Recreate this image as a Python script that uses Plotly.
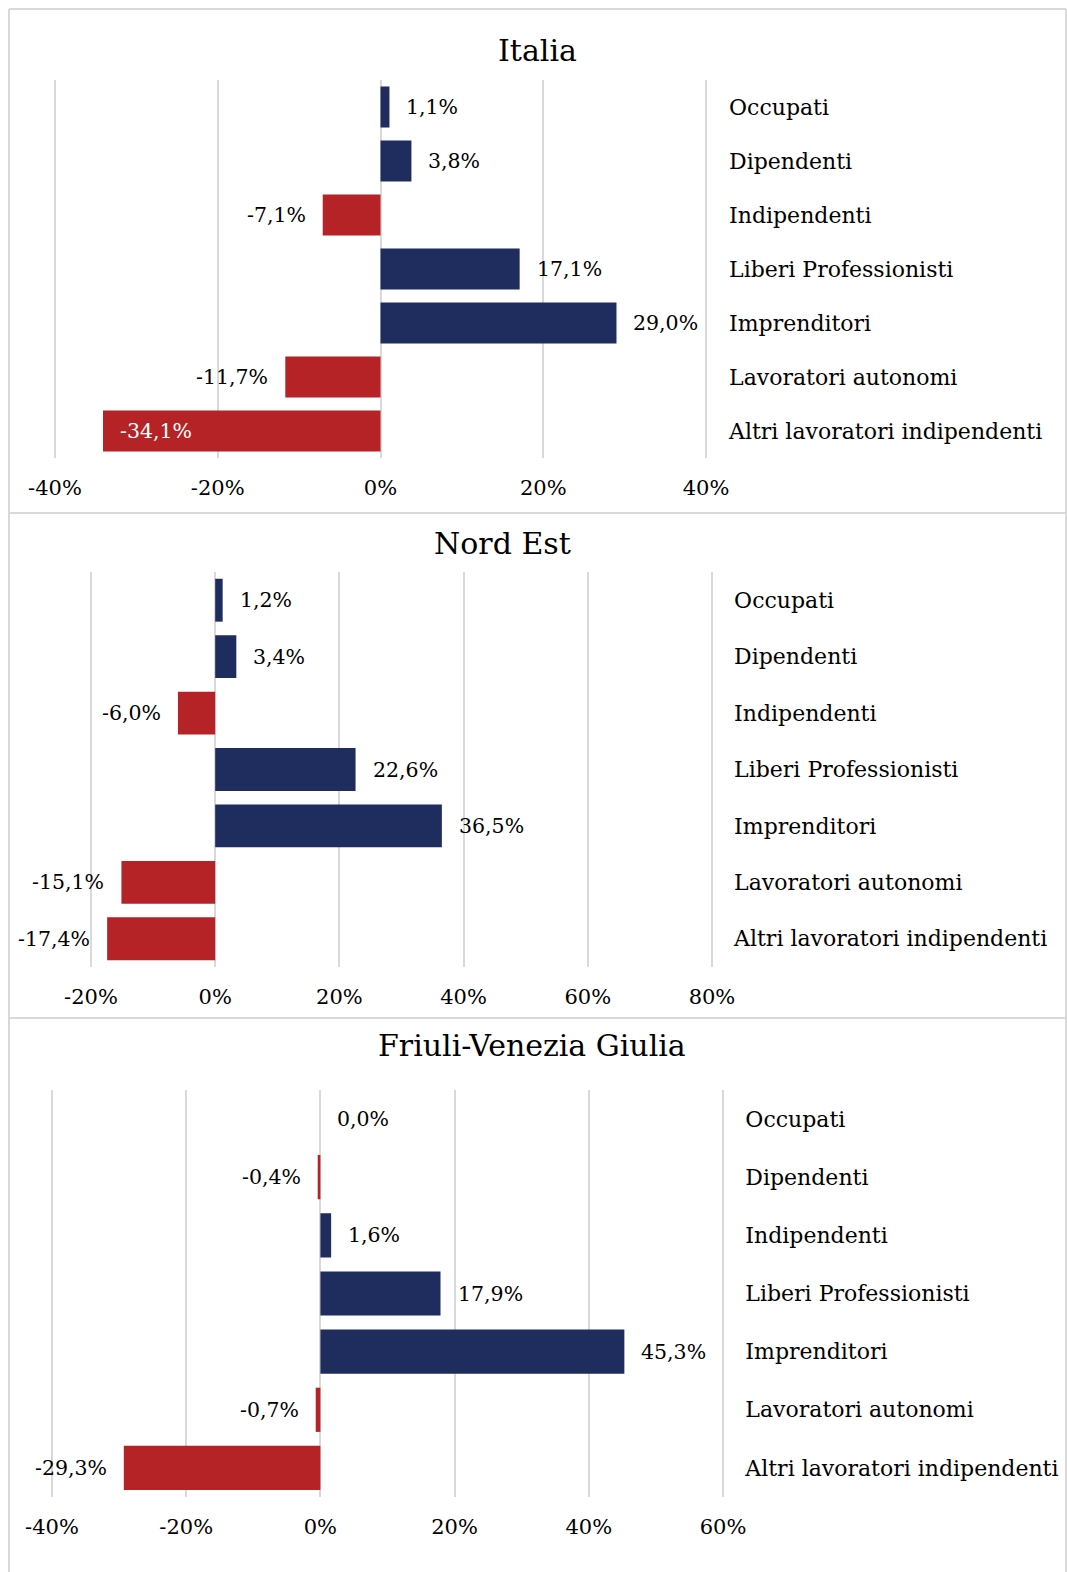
import plotly.graph_objects as go

W, H = 1067, 1572

categories = [
    "Occupati", "Dipendenti", "Indipendenti", "Liberi Professionisti",
    "Imprenditori", "Lavoratori autonomi", "Altri lavoratori indipendenti",
]

# variazione % 2011-2018
italia = [1.1, 3.8, -7.1, 17.1, 29.0, -11.7, -34.1]
nord_est = [1.2, 3.4, -6.0, 22.6, 36.5, -15.1, -17.4]
fvg = [0.0, -0.4, 1.6, 17.9, 45.3, -0.7, -29.3]

italia_ticks = [-40, -20, 0, 20, 40]
nord_est_ticks = [-20, 0, 20, 40, 60, 80]
fvg_ticks = [-40, -20, 0, 20, 40, 60]

titles = ["Italia", "Nord Est", "Friuli-Venezia Giulia"]

NAVY = "#1f2c5e"
RED = "#b52327"
GRID = "#d9d9d9"
FONT = "DejaVu Serif"


def px_x(p):
    return p / W


def px_y(p):
    return 1 - p / H


def pct(v):
    return f"{v:.1f}%".replace(".", ",")


# pixel layout of each panel: first/last gridline, y extent, title
panels = [
    dict(vals=italia, ticks=italia_ticks, x0=55, x1=706, y0=80, y1=458,
         tx=537, ty=50, inside=[6]),
    dict(vals=nord_est, ticks=nord_est_ticks, x0=91, x1=712, y0=572, y1=967,
         tx=502, ty=543, inside=[]),
    dict(vals=fvg, ticks=fvg_ticks, x0=52, x1=723, y0=1090, y1=1497,
         tx=532, ty=1045, inside=[]),
]

fig = go.Figure()
annotations = []

for i, p in enumerate(panels):
    n = "" if i == 0 else str(i + 1)
    vals = p["vals"]
    fig.add_trace(go.Bar(
        x=vals, y=categories, orientation="h",
        marker=dict(color=[NAVY if v >= 0 else RED for v in vals], line_width=0),
        xaxis="x" + n, yaxis="y" + n, showlegend=False, hoverinfo="skip",
    ))
    for j, v in enumerate(vals):
        if j in p["inside"]:
            anchor, shift, col = "left", 15, "white"
        elif v >= 0:
            anchor, shift, col = "left", 15, "black"
        else:
            anchor, shift, col = "right", -15, "black"
        annotations.append(dict(
            x=v, y=categories[j], xref="x" + n, yref="y" + n,
            text=pct(v), showarrow=False, xanchor=anchor, xshift=shift,
            font=dict(size=20.5, color=col, family=FONT),
        ))
    annotations.append(dict(
        x=px_x(p["tx"]), y=px_y(p["ty"]), xref="paper", yref="paper",
        text=titles[i], showarrow=False, xanchor="center", yanchor="middle",
        font=dict(size=30, color="black", family=FONT),
    ))
    tks = p["ticks"]
    # pad the range a little so the edge gridlines are drawn too
    pad = 0.5
    ppu = (p["x1"] - p["x0"]) / (tks[-1] - tks[0])
    fig.layout["xaxis" + n] = dict(
        domain=[px_x(p["x0"] - pad * ppu), px_x(p["x1"] + pad * ppu)],
        range=[tks[0] - pad, tks[-1] + pad], anchor="y" + n, automargin=False,
        tickvals=tks, ticktext=[f"{t}%" for t in tks],
        showgrid=True, gridcolor=GRID, gridwidth=1.5, zeroline=False,
        showline=False, ticks="", ticklabelstandoff=15,
        tickfont=dict(size=21, family=FONT, color="black"),
    )
    fig.layout["yaxis" + n] = dict(
        domain=[px_y(p["y1"]), px_y(p["y0"])],
        anchor="x" + n, side="right", autorange="reversed", automargin=False,
        showgrid=False, zeroline=False, showline=False, ticks="",
        ticklabelstandoff=18,
        tickfont=dict(size=22, family=FONT, color="black"),
    )

# heading cut off at the top edge of the page
annotations.append(dict(
    x=px_x(-2), y=px_y(-9.5), xref="paper", yref="paper",
    text="Variazione % 2011-2018.", showarrow=False,
    xanchor="left", yanchor="middle",
    font=dict(size=28, color="#8a8a8a", family=FONT),
))

# frame and panel separators
shapes = []
line = dict(color=GRID, width=2)
shapes.append(dict(type="line", xref="paper", yref="paper",
                   x0=px_x(9), x1=px_x(1066), y0=px_y(9), y1=px_y(9), line=line))
shapes.append(dict(type="line", xref="paper", yref="paper",
                   x0=px_x(9), x1=px_x(9), y0=px_y(9), y1=px_y(1590), line=line))
shapes.append(dict(type="line", xref="paper", yref="paper",
                   x0=px_x(1066), x1=px_x(1066), y0=px_y(9), y1=px_y(1590), line=line))
for sy in [513, 1018]:
    shapes.append(dict(type="line", xref="paper", yref="paper",
                       x0=px_x(9), x1=px_x(1066), y0=px_y(sy), y1=px_y(sy), line=line))

fig.update_layout(
    width=W, height=H,
    margin=dict(l=0, r=0, t=0, b=0, autoexpand=False),
    paper_bgcolor="white", plot_bgcolor="white",
    font=dict(family=FONT, color="black"),
    bargap=0.24,
    annotations=annotations,
    shapes=shapes,
)

# drop the page's default body margin so the figure fills the window
fig.write_html("out.html", config={"displayModeBar": False},
               post_script="document.body.style.margin = '0px';")
